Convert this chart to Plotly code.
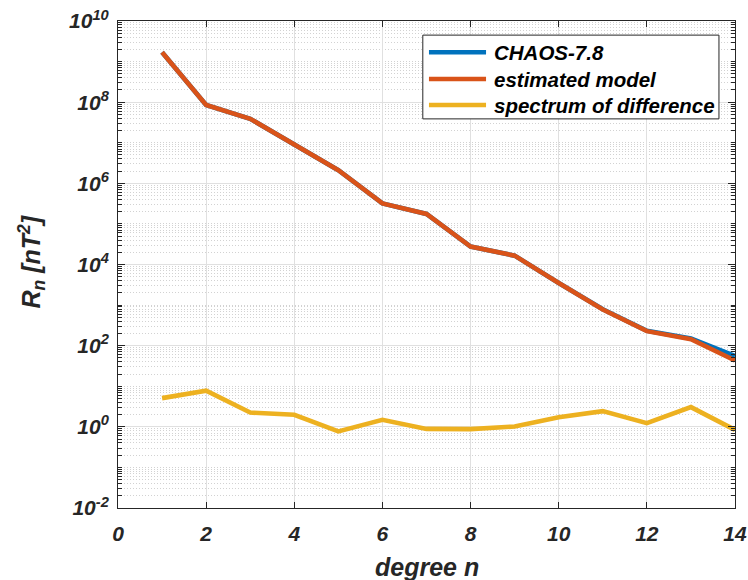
import plotly.graph_objects as go

# Spherical-harmonic degree
degree = list(range(1, 15))

# Lowes-Mauersberger power spectra R_n [nT^2]
chaos_78 = [1.7e9, 8.5e7, 3.9e7, 9.3e6, 2.1e6, 3.2e5, 1.76e5,
            2.76e4, 1.65e4, 3.5e3, 790, 232, 150, 56]
estimated_model = [1.7e9, 8.5e7, 3.9e7, 9.3e6, 2.1e6, 3.2e5, 1.76e5,
                   2.76e4, 1.65e4, 3.5e3, 780, 228, 144, 43]
difference_spectrum = [5.1, 7.8, 2.25, 1.98, 0.77, 1.49, 0.89,
                       0.88, 1.02, 1.73, 2.44, 1.23, 3.06, 0.84]

series_names = ["CHAOS-7.8", "estimated model", "spectrum of difference"]
series_colors = ["#0072BD", "#D95319", "#EDB120"]

x_ticks = list(range(0, 15, 2))
y_exponents = list(range(-2, 11, 2))

FONT = "Liberation Sans, Arial, Helvetica, sans-serif"
AX = "#262626"
LINE_W = 4.6

fig = go.Figure()
for name, ys, col in zip(series_names,
                         [chaos_78, estimated_model, difference_spectrum],
                         series_colors):
    fig.add_trace(go.Scatter(x=degree, y=ys, mode="lines", name=name,
                             line=dict(color=col, width=LINE_W)))

# minor log ticks: 2..9 in every decade plus the odd decades
minor_vals = []
for k in range(-2, 10):
    for m in range(1, 10):
        if m == 1 and k % 2 == 0:
            continue
        minor_vals.append(m * 10.0 ** k)

tickfont = dict(family=FONT, size=21, color=AX, weight="bold", style="italic")

fig.update_xaxes(
    range=[0, 14], tickvals=x_ticks, ticktext=[str(v) for v in x_ticks],
    showline=True, linecolor=AX, linewidth=1, mirror="ticks",
    ticks="inside", ticklen=6, tickcolor=AX, tickwidth=1,
    showgrid=True, gridcolor="#e0e0e0", gridwidth=1,
    zeroline=False, tickfont=tickfont, automargin=False,
    ticklabelstandoff=7,
)
fig.update_yaxes(
    type="log", range=[-2, 10],
    tickvals=[10.0 ** e for e in y_exponents],
    ticktext=[f"10<sup>{e}</sup>" for e in y_exponents],
    showline=True, linecolor=AX, linewidth=1, mirror="ticks",
    ticks="inside", ticklen=7, tickcolor=AX, tickwidth=1,
    showgrid=True, gridcolor="#e0e0e0", gridwidth=1,
    zeroline=False, tickfont=tickfont, automargin=False,
    ticklabelstandoff=4,
    minor=dict(tickvals=minor_vals, ticks="inside", ticklen=4,
               tickcolor=AX, showgrid=True, gridcolor="#d2d2d2",
               griddash="1px,2px", gridwidth=1),
)

fig.add_annotation(text="<b><i>degree n</i></b>", xref="paper", yref="paper",
                   x=0.5, y=0, yshift=-59, yanchor="middle", xanchor="center",
                   showarrow=False, font=dict(family=FONT, size=25, color=AX))
fig.add_annotation(text="<b><i>R<sub>n</sub> [nT<sup>2</sup>]</i></b>",
                   xref="paper", yref="paper", x=0, y=0.5, xshift=-87,
                   yshift=3, xanchor="center", yanchor="middle",
                   textangle=-90, showarrow=False,
                   font=dict(family=FONT, size=25, color=AX))

# Legend box in the upper right of the axes (paper coordinates)
leg_x0, leg_x1 = 0.494, 0.974
leg_top, leg_bottom = 0.971, 0.799
row_y = [0.9357, 0.8809, 0.8275]
sample_x0, sample_x1 = 0.504, 0.5965
text_x = 0.606

fig.add_shape(type="rect", xref="paper", yref="paper",
              x0=leg_x0, x1=leg_x1, y0=leg_bottom, y1=leg_top,
              line=dict(color=AX, width=1), fillcolor="white", layer="above")
for name, col, ry in zip(series_names, series_colors, row_y):
    fig.add_shape(type="line", xref="paper", yref="paper",
                  x0=sample_x0, x1=sample_x1, y0=ry, y1=ry,
                  line=dict(color=col, width=LINE_W), layer="above")
    fig.add_annotation(text=f"<b><i>{name}</i></b>", xref="paper",
                       yref="paper", x=text_x, y=ry, xanchor="left",
                       yanchor="middle", showarrow=False,
                       font=dict(family=FONT, size=20.5, color="black"))

fig.update_layout(
    width=748, height=580,
    margin=dict(l=118, r=13, t=21, b=72, autoexpand=False),
    paper_bgcolor="white", plot_bgcolor="white",
    showlegend=False,
)

fig.write_html("out.html")
